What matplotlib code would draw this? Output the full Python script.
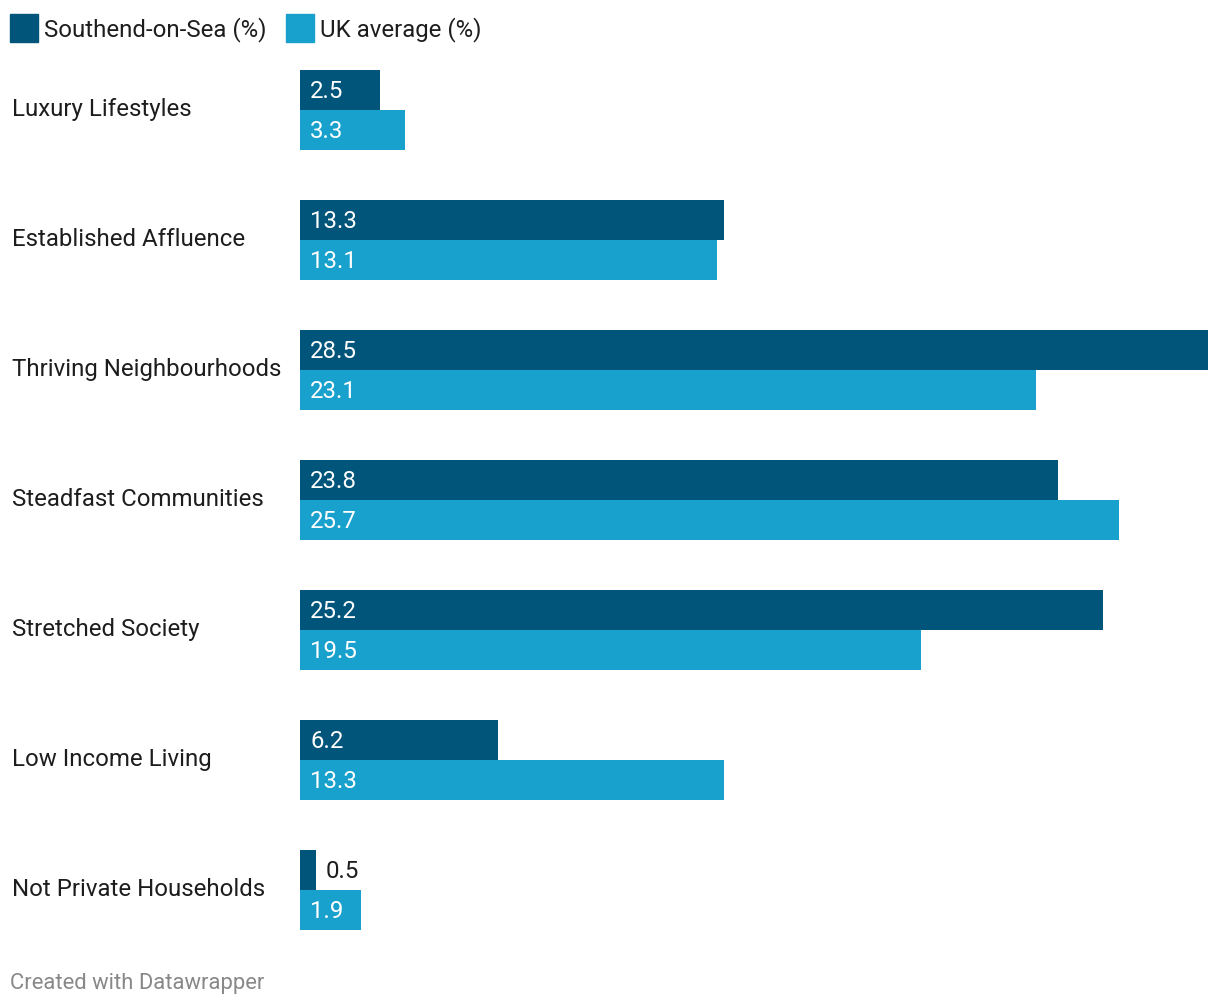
import matplotlib
matplotlib.use("Agg")
import matplotlib.pyplot as plt
import numpy as np

categories = ["Luxury Lifestyles", "Established Affluence", "Thriving Neighbourhoods",
              "Steadfast Communities", "Stretched Society", "Low Income Living",
              "Not Private Households"]
southend = [2.5, 13.3, 28.5, 23.8, 25.2, 6.2, 0.5]
uk_avg = [3.3, 13.1, 23.1, 25.7, 19.5, 13.3, 1.9]
series_names = ["Southend-on-Sea (%)", "UK average (%)"]

DARK = "#01547a"
LIGHT = "#19a1cd"
TEXT = "#1d1d1d"

plt.rcParams['font.family'] = ['Roboto', 'DejaVu Sans']

W, H = 1220, 1006
fig = plt.figure(figsize=(W / 100, H / 100), dpi=100)

bh = 40 / 130
top_px, bot_px = 70, 930
ax = fig.add_axes([300 / W, (H - bot_px) / H, (1208 - 300) / W, (bot_px - top_px) / H])
n = len(categories)
y = np.arange(n)
ax.barh(y - bh / 2, southend, height=bh, color=DARK)
ax.barh(y + bh / 2, uk_avg, height=bh, color=LIGHT)
ax.set_xlim(0, max(southend + uk_avg))
ax.set_ylim(n - 1 + bh, -bh)
ax.axis("off")

fs = 17.3
xoff = 10 / ((1208 - 300) / max(southend + uk_avg))
ydelta = 1 / 130  # ~1px upward nudge in data units
for i in range(n):
    for val, yy in ((southend[i], y[i] - bh / 2), (uk_avg[i], y[i] + bh / 2)):
        label = f"{val:.1f}"
        if val < 1.0:
            ax.text(val + xoff, yy - ydelta, label, color=TEXT, fontsize=fs,
                    va="center_baseline", ha="left")
        else:
            ax.text(xoff, yy - ydelta, label, color="white", fontsize=fs,
                    va="center_baseline", ha="left")
    fig.text(12 / W, 1 - (top_px + 130 * i + 37) / H, categories[i], color=TEXT,
             fontsize=fs, va="center_baseline", ha="left")

# legend
for x0, col, name in ((10, DARK, series_names[0]), (286, LIGHT, series_names[1])):
    fig.patches.append(plt.Rectangle((x0 / W, 1 - 42 / H), 28 / W, 28 / H,
                                     transform=fig.transFigure, color=col, figure=fig))
    fig.text((x0 + 34) / W, 1 - 27 / H, name, color=TEXT, fontsize=fs,
             va="center_baseline", ha="left")

fig.text(10 / W, 1 - 981 / H, "Created with Datawrapper", color="#888888",
         fontsize=15.8, va="center_baseline", ha="left")

fig.savefig("out.png", dpi=100)
